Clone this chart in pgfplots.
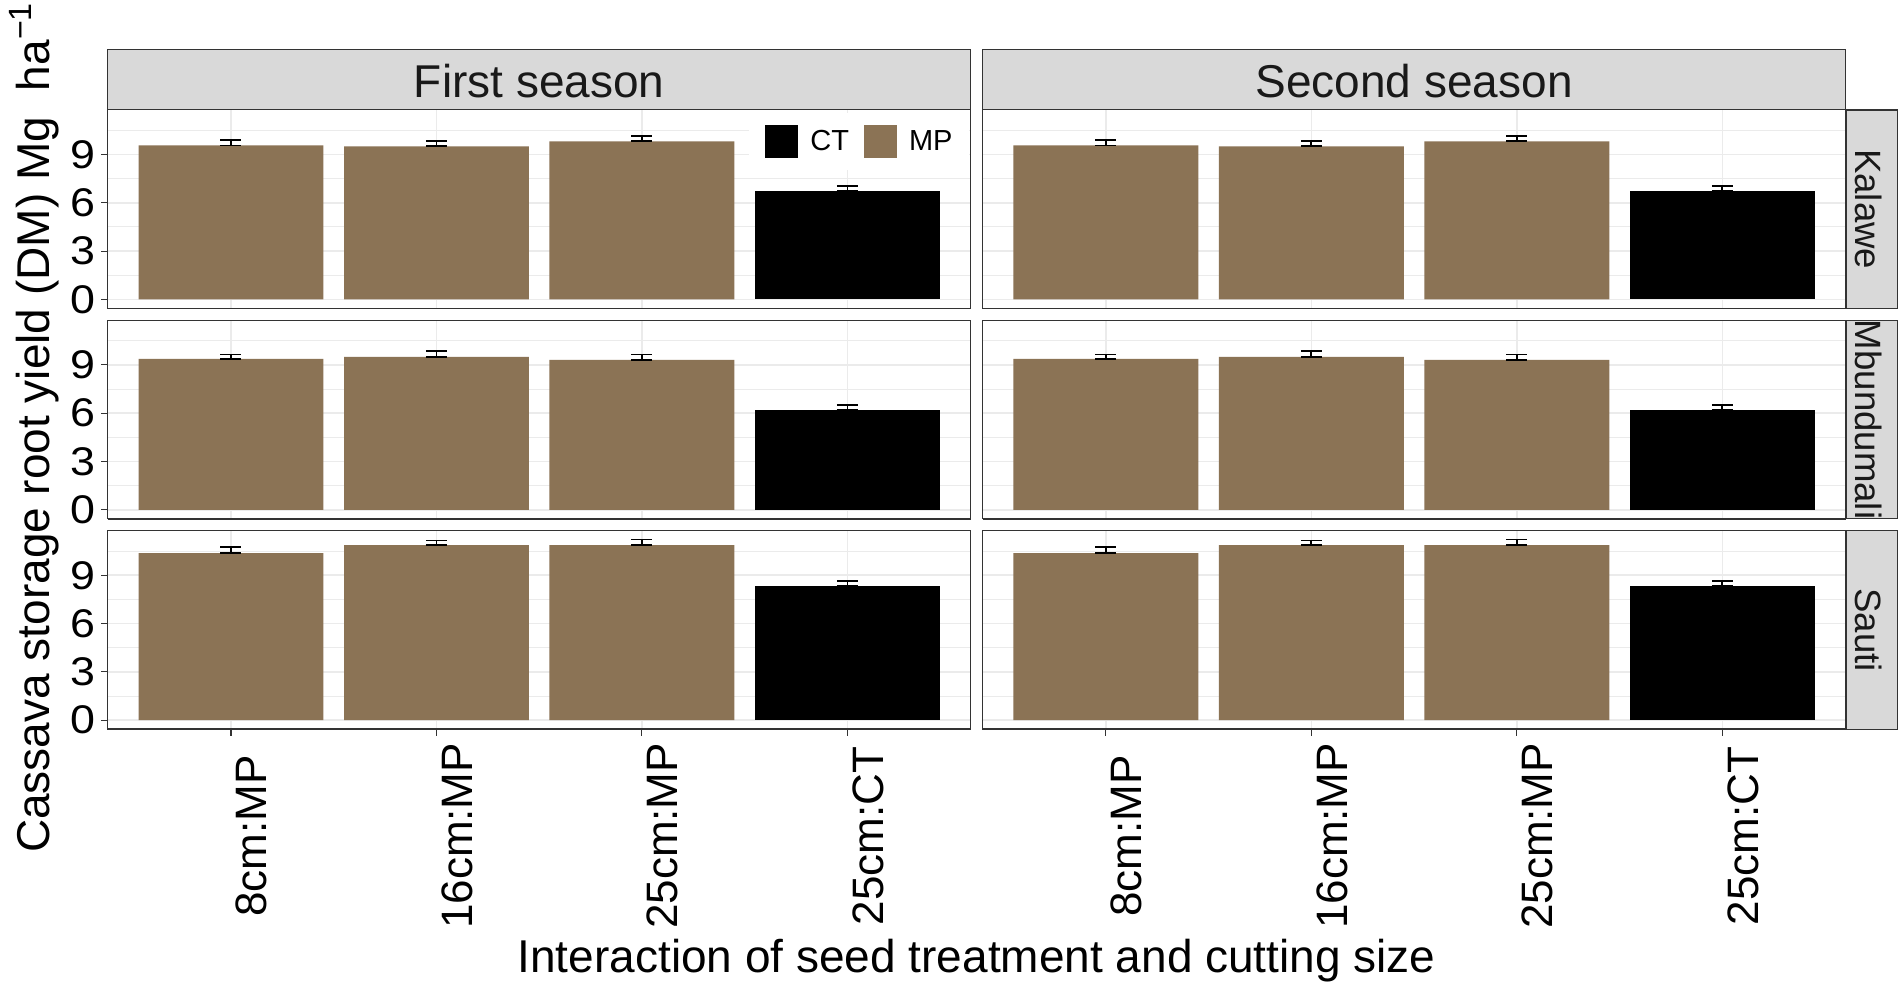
\documentclass[border=0pt]{standalone}
\usepackage{fontspec}
\setmainfont{Liberation Sans}
\newfontfamily\tickfont[FakeStretch=1.12]{Liberation Sans}
\usepackage{pgfplots}
\pgfplotsset{compat=1.18}
\usepackage{pgfplotstable}

\definecolor{mpc}{HTML}{8B7355}
\definecolor{g20}{HTML}{333333}
\definecolor{g92}{HTML}{EBEBEB}
\definecolor{g85}{HTML}{D9D9D9}

% x = category position, y = mean, ep = upper error, em = lower error
\pgfplotstableread{
x y ep em
1 9.56 0.33 0
2 9.50 0.35 0
3 9.81 0.31 0
}\kalMP
\pgfplotstableread{
x y ep em
4 6.73 0.31 0
}\kalCT
\pgfplotstableread{
x y ep em
1 9.37 0.27 0
2 9.50 0.35 0
3 9.31 0.33 0
}\mbuMP
\pgfplotstableread{
x y ep em
4 6.21 0.31 0
}\mbuCT
\pgfplotstableread{
x y ep em
1 10.38 0.35 0
2 10.87 0.29 0
3 10.87 0.35 0
}\sauMP
\pgfplotstableread{
x y ep em
4 8.32 0.32 0
}\sauCT

\pgfplotsset{
  panel/.style={
    scale only axis, width=431.5pt, height=99.2pt,
    xmin=0.4, xmax=4.6, ymin=-0.56, ymax=11.76,
    xtick={1,2,3,4}, ytick={0,3,6,9}, minor ytick={1.5,4.5,7.5,10.5},
    xticklabels={},
    xmajorgrids, ymajorgrids, yminorgrids,
    major grid style={g92, line width=0.8pt},
    minor grid style={g92, line width=0.45pt},
    axis line style={g20, line width=0.5pt},
    tick align=outside, major tick length=3.2pt, minor tick length=0pt,
    tick style={g20, line width=0.55pt},
    xtick pos=left, ytick pos=left,
    yticklabel style={font=\tickfont\fontsize{20}{22}\selectfont, inner sep=0pt, anchor=east},
    yticklabel shift=2.7pt,
    /pgf/number format/assume math mode=true,
  },
  nox/.style={xtick style={draw=none}},
  noy/.style={ytick style={draw=none}, yticklabels={}},
  mpbar/.style={ybar, bar width=0.9, bar shift=0pt, fill=mpc, draw=none, forget plot,
    error bars/.cd, y dir=both, y explicit,
    error bar style={draw=black, line width=0.9pt},
    error mark options={rotate=90, draw=black, mark size=5.25pt, line width=0.9pt}},
  ctbar/.style={ybar, bar width=0.9, bar shift=0pt, fill=black, draw=none, forget plot,
    error bars/.cd, y dir=both, y explicit,
    error bar style={draw=black, line width=0.9pt},
    error mark options={rotate=90, draw=black, mark size=5.25pt, line width=0.9pt}},
}

\newcommand{\bars}[2]{%
  \addplot[mpbar] table[x=x, y=y, y error plus=ep, y error minus=em] {#1};
  \addplot[ctbar] table[x=x, y=y, y error plus=ep, y error minus=em] {#2};
}

\begin{document}
\begin{tikzpicture}
\begin{scope}
\clip (0,0) rectangle (949.5pt,491.5pt);
\fill[white] (0,0) rectangle (949.5pt,491.5pt);

% ---- Row 1: Kalawe
\begin{axis}[panel, nox, at={(53.85pt,337.3pt)}, anchor=south west,
  legend columns=2,
  legend image code/.code={\fill[#1] (0pt,-8pt) rectangle (16pt,8pt);},
  legend style={draw=none, fill=white, at={(0.998,0.985)}, anchor=north east,
    inner xsep=8pt, inner ysep=6pt, font=\fontsize{14.5}{17}\selectfont,
    nodes={inner sep=0pt},
    /tikz/every odd column/.append style={column sep=6.3pt},
    /tikz/every even column/.append style={column sep=7.35pt}}]
\bars{\kalMP}{\kalCT}
\addlegendimage{black}\addlegendentry{CT}
\addlegendimage{mpc}\addlegendentry{MP}
\end{axis}
\begin{axis}[panel, nox, noy, at={(491.3pt,337.3pt)}, anchor=south west]
\bars{\kalMP}{\kalCT}
\end{axis}
% ---- Row 2: Mbundumali
\begin{axis}[panel, nox, at={(53.85pt,232.1pt)}, anchor=south west]
\bars{\mbuMP}{\mbuCT}
\end{axis}
\begin{axis}[panel, nox, noy, at={(491.3pt,232.1pt)}, anchor=south west]
\bars{\mbuMP}{\mbuCT}
\end{axis}
% ---- Row 3: Sauti
\begin{axis}[panel, at={(53.85pt,126.9pt)}, anchor=south west]
\bars{\sauMP}{\sauCT}
\end{axis}
\begin{axis}[panel, noy, at={(491.3pt,126.9pt)}, anchor=south west]
\bars{\sauMP}{\sauCT}
\end{axis}

% thicker bottom lines of panels
\foreach \yb in {337.3,232.1,126.9}{
  \draw[g20, line width=0.85pt] (53.85pt,\yb pt) -- (485.35pt,\yb pt);
  \draw[g20, line width=0.85pt] (491.3pt,\yb pt) -- (922.8pt,\yb pt);
}

% column strips
\filldraw[fill=g85, draw=g20, line width=0.5pt] (53.85pt,436.5pt) rectangle (485.35pt,466.85pt);
\filldraw[fill=g85, draw=g20, line width=0.5pt] (491.3pt,436.5pt) rectangle (922.8pt,466.85pt);
\node[anchor=base, inner sep=0pt, font=\fontsize{23}{27}\selectfont, text=black!90] at (269.6pt,442.65pt) {First season};
\node[anchor=base, inner sep=0pt, font=\fontsize{23}{27}\selectfont, text=black!90] at (707.05pt,442.65pt) {Second season};

% row strips
\foreach \yb/\yt/\yc/\lab in {337.3/436.5/386.9/Kalawe, 232.1/331.3/281.7/Mbundumali, 126.9/226.1/176.5/Sauti}{
  \filldraw[fill=g85, draw=g20, line width=0.55pt] (923.1pt,\yb pt) rectangle (948.7pt,\yt pt);
  \begin{scope}
    \clip (923.1pt,\yb pt) rectangle (948.7pt,\yt pt);
    \node[rotate=-90, anchor=base, inner sep=0pt, font=\fontsize{18.3}{22}\selectfont, text=black!90] at (927.8pt,\yc pt) {\lab};
  \end{scope}
}

% x tick labels
\foreach \xx/\lab in {133.35/8cm:MP, 236.1/16cm:MP, 338.8/25cm:MP, 441.55/25cm:CT,
                      570.8/8cm:MP, 673.55/16cm:MP, 776.3/25cm:MP, 879.0/25cm:CT}{
  \node[rotate=90, anchor=base, inner sep=0pt, font=\fontsize{22}{26}\selectfont] at (\xx pt,73.5pt) {\lab};
}

% axis titles
\node[anchor=base, inner sep=0pt, font=\fontsize{23}{27}\selectfont] at (488.3pt,5pt)
  {Interaction of seed treatment and cutting size};
\node[rotate=90, anchor=base, inner sep=0pt, font=\fontsize{23}{27}\selectfont] at (24.85pt,277.7pt)
  {Cassava storage root yield (DM) Mg\ \ ha\textsuperscript{\char"2212 1}};
\end{scope}
\pgfresetboundingbox
\useasboundingbox (0,0) rectangle (949.5pt,491.5pt);
\end{tikzpicture}
\end{document}
